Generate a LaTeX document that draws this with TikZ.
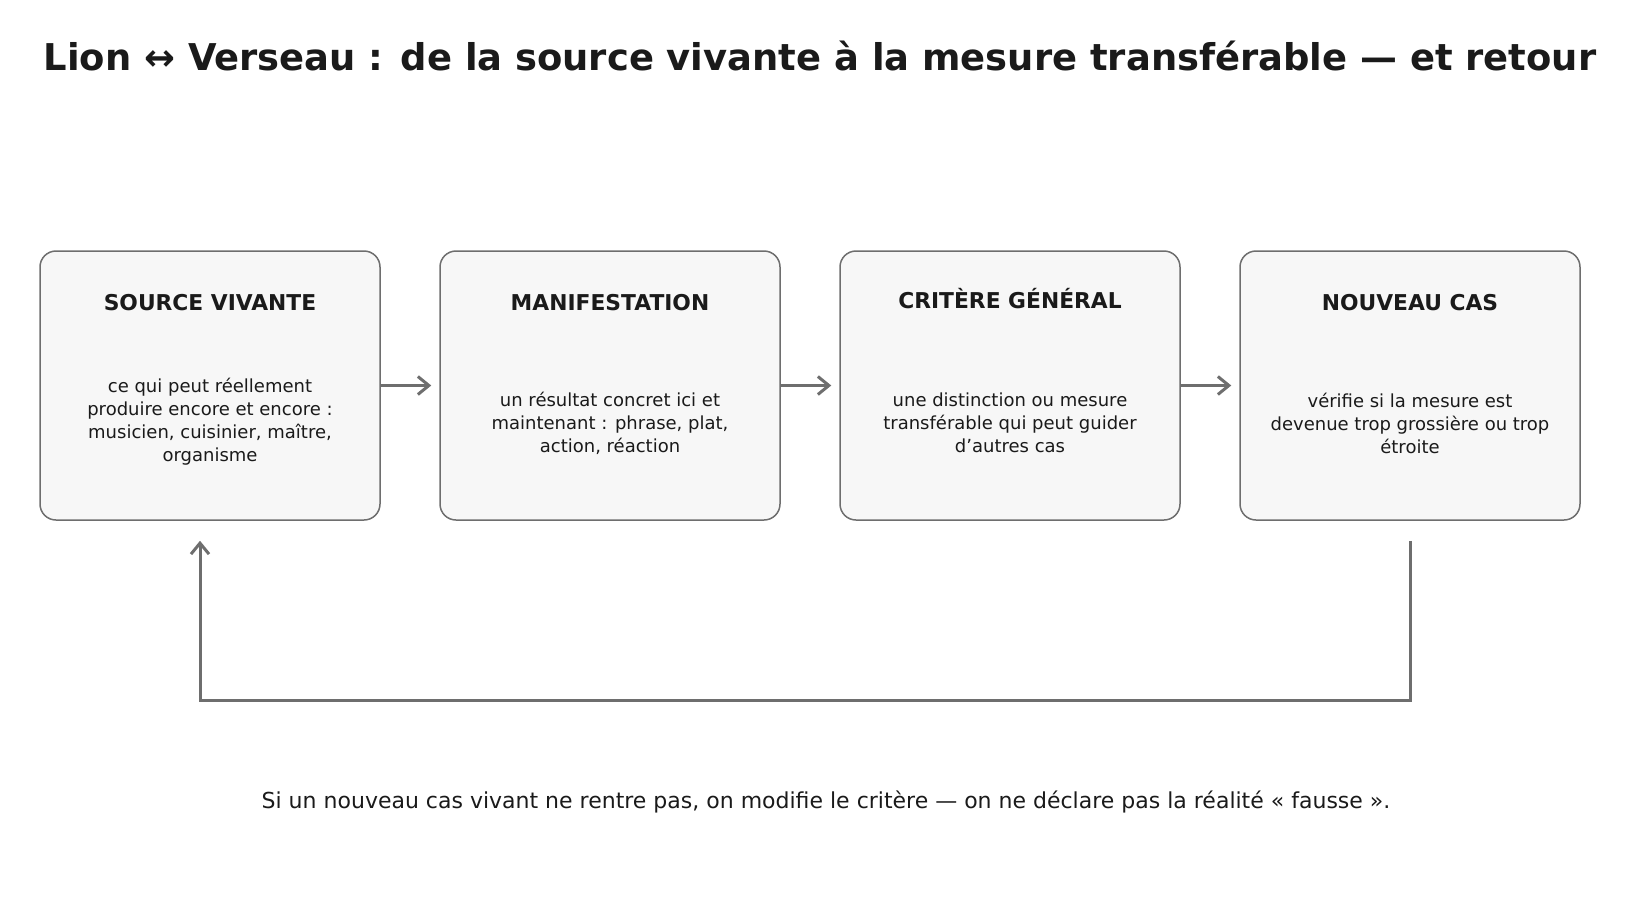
\documentclass[tikz,border=0pt]{standalone}
\usepackage{fontspec}
\setmainfont{DejaVu Sans}
\usetikzlibrary{positioning,arrows.meta}
\definecolor{linegray}{HTML}{6E6E6E}
\definecolor{boxgray}{HTML}{F7F7F7}
\definecolor{inkgray}{HTML}{1A1A1A}

\begin{document}
\begin{tikzpicture}[x=1pt,y=-1pt,>={Straight Barb[length=11pt,width=18pt,line width=3pt]}]
  \tikzstyle{stage}=[rectangle, rounded corners=16pt, draw=linegray, line width=1.5pt,
fill=boxgray, minimum width=340pt, minimum height=269pt]
  \tikzstyle{heading}=[text=inkgray, font=\fontsize{21.8}{26}\selectfont\bfseries]
  \tikzstyle{body}=[text=inkgray, align=center, font=\fontsize{18}{23}\selectfont]
  \tikzstyle{flow}=[draw=linegray, line width=3pt, ->]
  \useasboundingbox (0,0) rectangle (1650,900);

  \node[text=inkgray, font=\fontsize{36.9}{44}\selectfont\bfseries] (title) at (820,56)
{Lion ↔ Verseau : de la source vivante à la mesure transférable — et retour};

  \node[stage] (B_1) at (210,385.5) {};
  \node[stage] (B_2) at (610,385.5) {};
  \node[stage] (B_3) at (1010,385.5) {};
  \node[stage] (B_4) at (1410,385.5) {};

  \node[heading] (T_1) at (210,303) {SOURCE VIVANTE};
  \node[heading] (T_2) at (610,303) {MANIFESTATION};
  \node[heading] (T_3) at (1010,299) {CRITÈRE GÉNÉRAL};
  \node[heading] (T_4) at (1410,303) {NOUVEAU CAS};

  \node[body] (D_1) at (210,422) {ce qui peut réellement\\produire encore et encore :\\musicien, cuisinier, maître,\\organisme};
  \node[body] (D_2) at (610,423) {un résultat concret ici et\\maintenant : phrase, plat,\\action, réaction};
  \node[body] (D_3) at (1010,423) {une distinction ou mesure\\transférable qui peut guider\\d’autres cas};
  \node[body] (D_4) at (1410,423) {vérifie si la mesure est\\devenue trop grossière ou trop\\étroite};

  \draw[flow, shorten >=8pt] (B_1) -- (B_2);
  \draw[flow, shorten >=8pt] (B_2) -- (B_3);
  \draw[flow, shorten >=8pt] (B_3) -- (B_4);

  \draw[flow, shorten <=20pt, shorten >=20pt] (B_4.south) -- ++(0,180) -| ([xshift=-10pt]B_1.south);

  \node[text=inkgray, font=\fontsize{22}{26}\selectfont] (note) at (826,802)
{Si un nouveau cas vivant ne rentre pas, on modifie le critère — on ne déclare pas la réalité « fausse ».};
\end{tikzpicture}
\end{document}
